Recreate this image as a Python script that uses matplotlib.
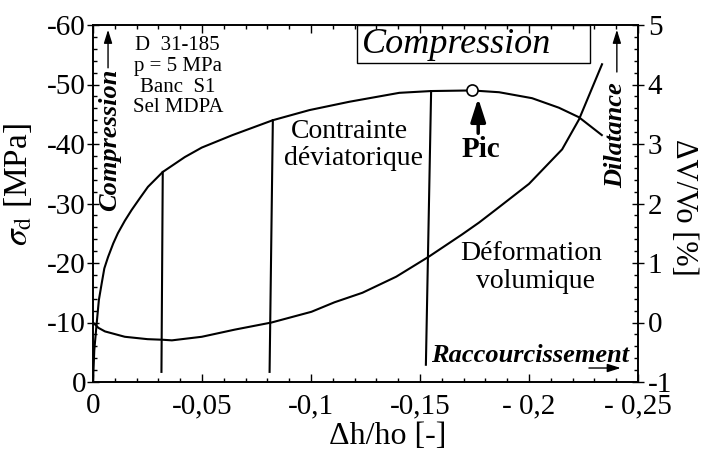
import matplotlib
matplotlib.use("Agg")
import matplotlib.pyplot as plt
from matplotlib.patches import Rectangle
from matplotlib.ticker import MultipleLocator

plt.rcParams["font.family"] = "serif"
plt.rcParams["font.serif"] = ["Liberation Serif", "DejaVu Serif"]
plt.rcParams["mathtext.fontset"] = "stix"

# deviatoric stress envelope, sigma_d [MPa] vs dh/ho
STRESS_DH = [0.0, -0.0006, -0.0017, -0.0027, -0.0040, -0.0052, -0.0069,
             -0.0093, -0.0114, -0.0146, -0.0177, -0.0215, -0.0252, -0.0320,
             -0.0421, -0.0499, -0.0640, -0.0825, -0.0993, -0.1176, -0.1405,
             -0.1551, -0.1739, -0.1863, -0.2014, -0.2137, -0.2229, -0.2334]
STRESS_SIG = [0.0, -5.4, -9.9, -13.8, -16.6, -19.1, -21.0,
              -23.3, -25.0, -27.1, -28.9, -30.9, -32.8, -35.3,
              -37.8, -39.4, -41.5, -44.0, -45.7, -47.1, -48.6,
              -48.9, -49.0, -48.7, -47.7, -46.1, -44.5, -41.5]

# unload / reload cycles (top of branch and foot of branch)
CYCLE_DH_TOP = [-0.0320, -0.0825, -0.1551]
CYCLE_SIG_TOP = [-35.3, -44.0, -48.9]
CYCLE_DH_FOOT = [-0.0314, -0.0810, -0.1527]
CYCLE_SIG_FOOT = [-1.7, -1.7, -2.9]

# peak of the deviatoric stress
PEAK_DH = -0.1739
PEAK_SIG = -49.0

# volumetric strain dV/Vo [%] (right axis)
VOL_DH = [0.0, -0.0025, -0.0055, -0.0146, -0.0250, -0.0320, -0.0362,
          -0.0499, -0.0650, -0.0819, -0.1002, -0.1108, -0.1236, -0.1391,
          -0.1542, -0.1693, -0.1771, -0.1849, -0.2000, -0.2152, -0.2229,
          -0.2335]
VOL_PCT = [0.0, -0.09, -0.15, -0.24, -0.28, -0.29, -0.30,
           -0.24, -0.12, 0.0, 0.18, 0.34, 0.50, 0.77,
           1.11, 1.48, 1.68, 1.90, 2.33, 2.91, 3.41,
           4.34]

X_TICKS = [0, -0.05, -0.1, -0.15, -0.2, -0.25]
X_TICK_LABELS = ["0", "-0,05", "-0,1", "-0,15", "- 0,2", "- 0,25"]
SIG_TICKS = [0, -10, -20, -30, -40, -50, -60]
SIG_TICK_LABELS = ["0", "-10", "-20", "-30", "-40", "-50", "-60"]
VOL_TICKS = [-1, 0, 1, 2, 3, 4, 5]
VOL_TICK_LABELS = ["-1", "0", "1", "2", "3", "4", "5"]


fig = plt.figure(figsize=(7.01, 4.53), dpi=100)
ax = fig.add_axes([93 / 701, 71 / 453, 545 / 701, 357 / 453])
ax2 = ax.twinx()

# curves
ax.plot(STRESS_DH, STRESS_SIG, color="k", lw=1.5)
for x0, y0, x1, y1 in zip(CYCLE_DH_TOP, CYCLE_SIG_TOP,
                          CYCLE_DH_FOOT, CYCLE_SIG_FOOT):
    ax.plot([x0, x1], [y0, y1], color="k", lw=1.5)
ax.plot(PEAK_DH, PEAK_SIG, "o", mfc="white", mec="k", ms=8, mew=1.2,
        zorder=5)
ax2.plot(VOL_DH, VOL_PCT, color="k", lw=1.5)

ax.set_xlim(0, -0.25)
ax.set_ylim(0, -60)
ax2.set_ylim(-1, 5)

# ticks
ax.set_xticks(X_TICKS, X_TICK_LABELS)
ax.xaxis.set_minor_locator(MultipleLocator(0.01))
ax.set_yticks(SIG_TICKS, SIG_TICK_LABELS)
ax.yaxis.set_minor_locator(MultipleLocator(2))
ax2.set_yticks(VOL_TICKS, VOL_TICK_LABELS)
ax2.yaxis.set_minor_locator(MultipleLocator(0.2))

ax.tick_params(axis="x", which="both", direction="in", top=True,
               labelsize=21, pad=8)
ax.tick_params(axis="x", which="major", length=6, width=1)
ax.tick_params(axis="x", which="minor", length=3, width=1)
ax.tick_params(axis="y", which="major", direction="inout", length=8,
               width=1, labelsize=21, pad=1)
ax.tick_params(axis="y", which="minor", direction="in", length=3, width=1)
ax2.tick_params(axis="y", which="major", direction="inout", length=8,
                width=1, labelsize=21, pad=3)
ax2.tick_params(axis="y", which="minor", direction="in", length=3, width=1)
for a in (ax, ax2):
    for s in a.spines.values():
        s.set_linewidth(1.2)

# axis titles
fig.text(18 / 701, 1 - 185 / 453, r"$\sigma_{\mathrm{d}}$ [MPa]",
         rotation=90, fontsize=24, ha="center", va="center")
fig.text(684 / 701, 1 - 207 / 453, "ΔV/Vo [%]", rotation=270,
         fontsize=22, ha="center", va="center")
fig.text(388 / 701, 1 - 444 / 453, "Δh/ho [-]", fontsize=23,
         ha="center", va="baseline")

# test description
for txt, yb in zip(["D  31-185", "p = 5 MPa", "Banc  S1", "Sel MDPA"],
                   [-55.8, -52.3, -48.7, -45.4]):
    ax.text(-0.0389, yb, txt, fontsize=15, ha="center", va="baseline")

# boxed title
ax.add_patch(Rectangle((0.4844, 0.8936), 0.4275, 0.1064, fill=False, lw=1,
                       transform=ax.transAxes, clip_on=False))
ax.text(-0.1670, -55.3, "Compression", fontsize=26, style="italic",
        ha="center", va="baseline")

# curve labels
ax.text(-0.1176, -41.0, "Contrainte", fontsize=20, ha="center",
        va="baseline")
ax.text(-0.1195, -36.5, "déviatorique", fontsize=20, ha="center",
        va="baseline")
ax.text(-0.2009, -20.5, "Déformation", fontsize=20, ha="center",
        va="baseline")
ax.text(-0.2032, -15.8, "volumique", fontsize=20, ha="center",
        va="baseline")

# peak annotation
ax.text(-0.1780, -37.8, "Pic", fontsize=21, fontweight="bold",
        ha="center", va="baseline")
ax.annotate("", xy=(-0.1767, -47.7), xytext=(-0.1767, -41.8),
            arrowprops=dict(arrowstyle="-|>,head_length=1.4,head_width=0.45",
                            lw=2.5, color="k", shrinkA=0, shrinkB=0))

# direction hints
thin = dict(arrowstyle="-|>,head_length=0.8,head_width=0.25", lw=1.0,
            color="k", shrinkA=0, shrinkB=0)
ax.text(-0.0078, -40.7, "Compression", rotation=90, fontsize=19,
        fontweight="bold", style="italic", ha="center", va="center")
ax.annotate("", xy=(-0.0069, -59.2), xytext=(-0.0069, -52.8),
            arrowprops=thin)
ax.text(-0.2398, -41.5, "Dilatance", rotation=90, fontsize=19,
        fontweight="bold", style="italic", ha="center", va="center")
ax.annotate("", xy=(-0.2403, -59.2), xytext=(-0.2403, -52.1),
            arrowprops=thin)
ax.text(-0.2005, -3.4, "Raccourcissement", fontsize=19,
        fontweight="bold", style="italic", ha="center", va="baseline")
ax.annotate("", xy=(-0.2421, -2.35), xytext=(-0.2275, -2.35),
            arrowprops=thin)

fig.savefig("out.png", dpi=100)
